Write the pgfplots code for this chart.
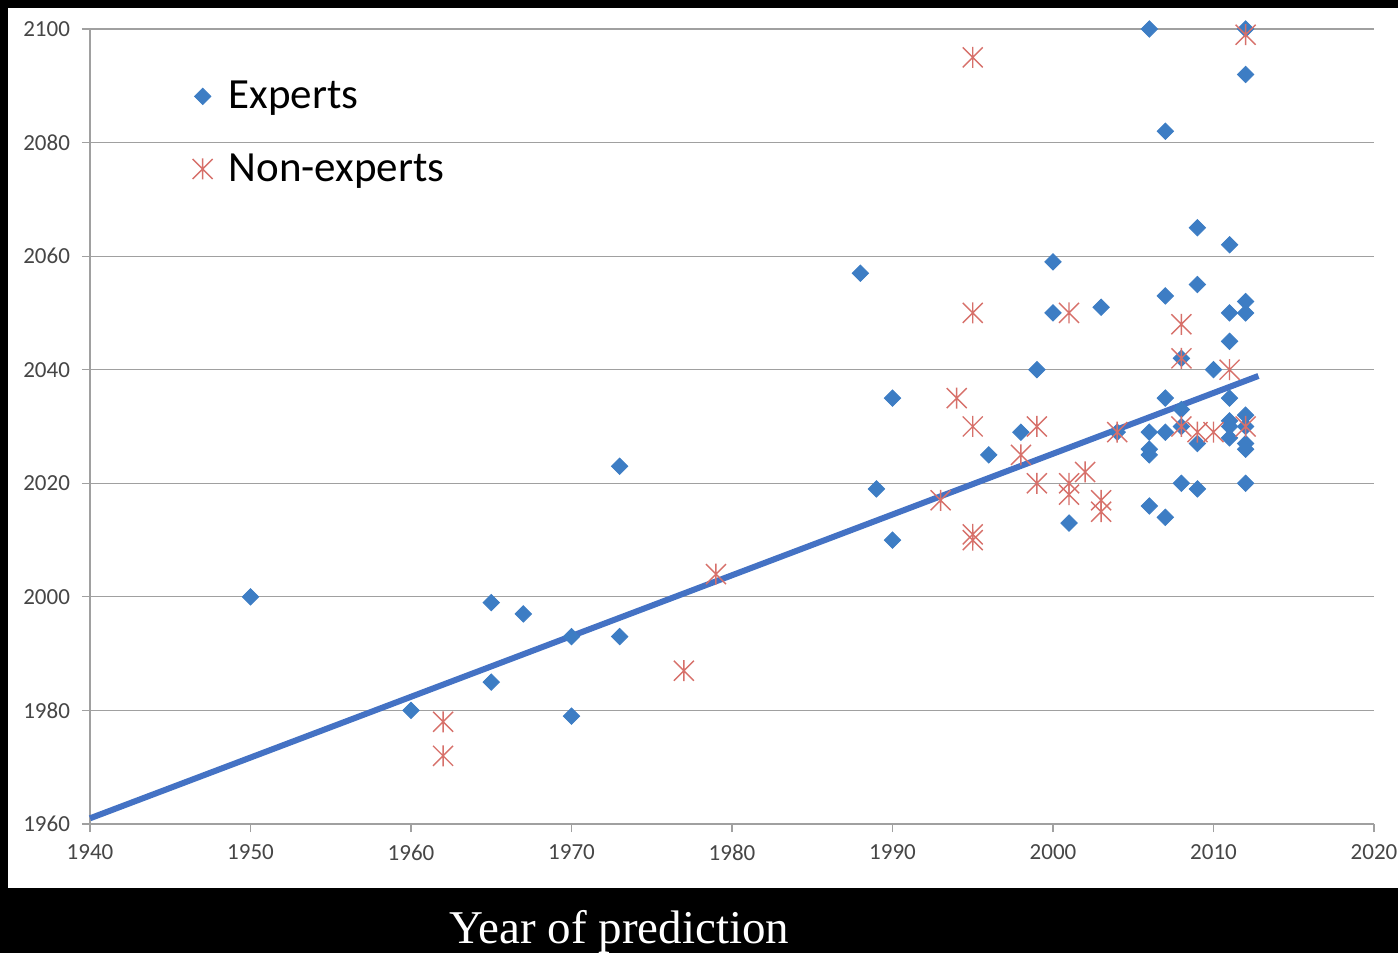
\documentclass[border=0pt]{standalone}
\usepackage{fontspec}
\setmainfont{Carlito}
\newfontfamily\timesf{Liberation Serif}
\usepackage{pgfplots}
\pgfplotsset{compat=1.18}
\usetikzlibrary{plotmarks}

\definecolor{expblue}{RGB}{61,125,196}
\definecolor{nonred}{RGB}{215,112,106}
\definecolor{trendblue}{RGB}{68,114,196}
\definecolor{gridgray}{RGB}{160,160,160}
\definecolor{ticktext}{RGB}{70,70,70}

% x plus vertical bar, like the spreadsheet star marker
\pgfdeclareplotmark{xstar}{%
  \pgfpathmoveto{\pgfqpoint{-\pgfplotmarksize}{-\pgfplotmarksize}}%
  \pgfpathlineto{\pgfqpoint{\pgfplotmarksize}{\pgfplotmarksize}}%
  \pgfpathmoveto{\pgfqpoint{-\pgfplotmarksize}{\pgfplotmarksize}}%
  \pgfpathlineto{\pgfqpoint{\pgfplotmarksize}{-\pgfplotmarksize}}%
  \pgfpathmoveto{\pgfqpoint{0pt}{-1.05\pgfplotmarksize}}%
  \pgfpathlineto{\pgfqpoint{0pt}{1.05\pgfplotmarksize}}%
  \pgfusepathqstroke
}

\pgfplotstableread{
year pred
1950 2000
1960 1980
1965 1999
1965 1985
1967 1997
1970 1993
1970 1979
1973 2023
1973 1993
1988 2057
1989 2019
1990 2035
1990 2010
1996 2025
1998 2029
1999 2040
2000 2059
2000 2050
2001 2013
2003 2051
2004 2029
2006 2100
2006 2029
2006 2026
2006 2025
2006 2016
2007 2082
2007 2053
2007 2035
2007 2029
2007 2014
2008 2042
2008 2033
2008 2030
2008 2020
2009 2065
2009 2055
2009 2027
2009 2019
2010 2040
2011 2062
2011 2050
2011 2045
2011 2035
2011 2031
2011 2030
2011 2028
2012 2100
2012 2092
2012 2052
2012 2050
2012 2032
2012 2030
2012 2027
2012 2026
2012 2020
}\experts

\pgfplotstableread{
year pred
1962 1978
1962 1972
1977 1987
1979 2004
1993 2017
1994 2035
1995 2095
1995 2050
1995 2030
1995 2011
1995 2010
1998 2025
1999 2030
1999 2020
2001 2050
2001 2020
2001 2018
2002 2022
2003 2017
2003 2015
2004 2029
2008 2048
2008 2042
2008 2030
2009 2029
2010 2029
2011 2040
2012 2030
2012 2099
}\nonexperts

\begin{document}
\begin{tikzpicture}
% background: black frame, white panel (1px = 0.5pt)
\fill[black] (0,0) rectangle (699pt,476.5pt);
\fill[white] (4pt,32.5pt) rectangle (699pt,472.5pt);

\begin{axis}[
  at={(45pt,64.5pt)}, anchor=south west,
  scale only axis,
  width=642pt, height=397.5pt,
  xmin=1940, xmax=2020, ymin=1960, ymax=2100,
  xtick={1940,1950,...,2020},
  ytick={1960,1980,...,2100},
  /pgf/number format/1000 sep={},
  /pgf/number format/assume math mode=true,
  axis x line=bottom, axis y line=left,
  axis line style={-, gridgray, line width=0.6pt},
  tick style={gridgray, line width=0.6pt},
  tick align=outside, major tick length=4pt,
  ymajorgrids, grid style={gridgray, line width=0.6pt},
  ticklabel style={font=\fontsize{11.5}{13}\selectfont, text=ticktext},
  xticklabel style={yshift=-3pt},
  yticklabel style={xshift=-2.5pt},
  clip=false,
  legend style={draw=none, fill=none, at={(axis description cs:0.075,0.945)},
    anchor=north west, font=\fontsize{21.5}{24}\selectfont,
    row sep=17pt, legend cell align=left,
    /tikz/every odd column/.append style={column sep=6pt}},
]
\addplot[only marks, mark=square*, mark size=2.9pt,
  mark options={rotate=45, fill=expblue, draw=expblue}]
  table[x=year, y=pred] {\experts};
\addlegendentry{Experts}
\addplot[only marks, mark=xstar, mark size=5pt,
  mark options={draw=nonred, line width=0.7pt}]
  table[x=year, y=pred] {\nonexperts};
\addlegendentry{Non-experts}
\addplot[trendblue, line width=3pt, forget plot] coordinates {
  (1940,1961) (2012.8,2038.9)
};
\end{axis}

\node[anchor=base, text=white, font=\timesf\fontsize{23.5}{26}\selectfont]
  at (309.75pt,4.5pt) {Year of prediction};

\pgfresetboundingbox
\useasboundingbox (0,0) rectangle (699pt,476.5pt);
\end{tikzpicture}
\end{document}
